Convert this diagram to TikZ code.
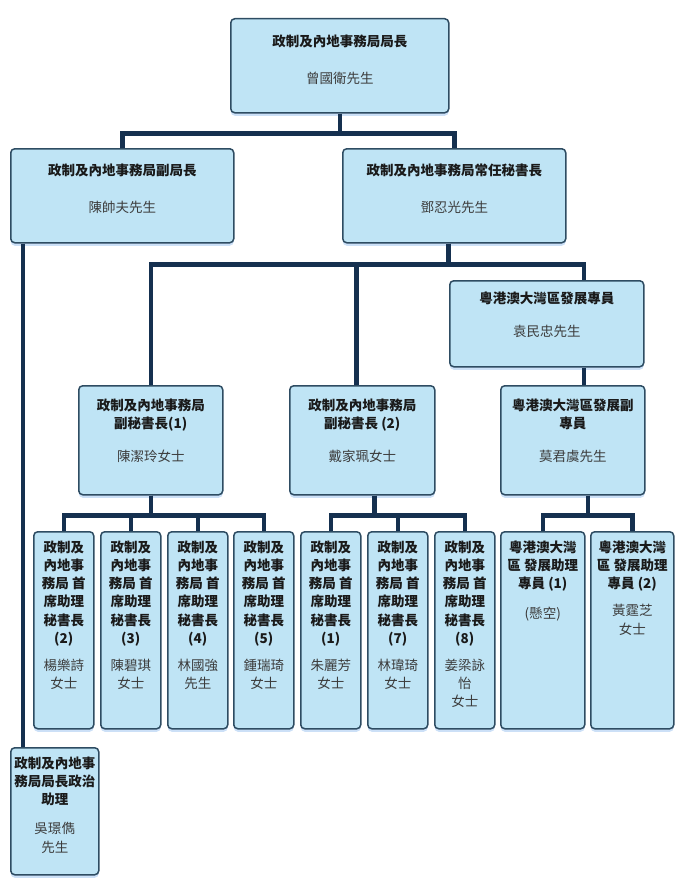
\documentclass[tikz,border=0pt]{standalone}
\usepackage{fontspec}
\setmainfont{Noto Sans CJK TC}
\usetikzlibrary{shadows}

\definecolor{boxfill}{HTML}{BFE4F5}
\definecolor{boxedge}{HTML}{2E4C62}
\definecolor{linkcol}{HTML}{15304F}
\definecolor{glow}{HTML}{7FB2EC}
\definecolor{titlecol}{HTML}{1A1A1A}
\definecolor{namecol}{HTML}{3C3C3C}

\tikzset{
  unit/.style={draw=boxedge, line width=1.5pt, fill=boxfill, rounded corners=4pt,
    anchor=north west, inner sep=0pt,
    drop shadow={shadow xshift=0pt, shadow yshift=-3pt, fill=glow, opacity=.4}},
  caption/.style={anchor=north, align=center, inner sep=0pt,
    font=\fontsize{13.5}{18.2}\selectfont\bfseries, text=titlecol},
  link/.style={draw=linkcol, line width=4.5pt}
}
\newcommand{\holder}{\mdseries\color{namecol}}

\begin{document}
\begin{tikzpicture}[x=1pt,y=-1pt]
\useasboundingbox (0,0) rectangle (680,891);

% top
\node[unit, minimum width=218pt, minimum height=94pt] (chief) at (230,18) {};
\node[caption] (chief-t) at ([yshift=-16.5pt]chief.north) {政制及內地事務局局長\\[19pt]\holder 曾國衛先生};

% second level
\node[unit, minimum width=223pt, minimum height=94pt] (deputy) at (10,148) {};
\node[caption] (deputy-t) at ([yshift=-15.5pt]deputy.north) {政制及內地事務局副局長\\[19pt]\holder 陳帥夫先生};
\node[unit, minimum width=223pt, minimum height=94pt] (ps) at (342,148) {};
\node[caption] (ps-t) at ([yshift=-15.5pt]ps.north) {政制及內地事務局常任秘書長\\[19pt]\holder 鄧忍光先生};

\node[unit, minimum width=194pt, minimum height=86pt] (comm) at (449,280) {};
\node[caption] (comm-t) at ([yshift=-11.5pt]comm.north) {粵港澳大灣區發展專員\\[15pt]\holder 袁民忠先生};

% deputy secretaries
\node[unit, minimum width=144pt, minimum height=109pt] (ds1) at (78,385) {};
\node[caption] (ds1-t) at ([yshift=-13.5pt]ds1.north) {政制及內地事務局\\副秘書長(1)\\[15pt]\holder 陳潔玲女士};
\node[unit, minimum width=145pt, minimum height=109pt] (ds2) at (289,385) {};
\node[caption] (ds2-t) at ([yshift=-13.5pt]ds2.north) {政制及內地事務局\\副秘書長 (2)\\[15pt]\holder 戴家珮女士};
\node[unit, minimum width=144pt, minimum height=109pt] (dc) at (500,385) {};
\node[caption] (dc-t) at ([yshift=-13.5pt]dc.north) {粵港澳大灣區發展副\\專員\\[15pt]\holder 莫君虞先生};

% principal assistant secretaries
\node[unit, minimum width=60pt, minimum height=197pt] (a2) at (33,531) {};
\node[caption] (a2-t) at ([yshift=-9.5pt]a2.north) {政制及\\內地事\\務局 首\\席助理\\秘書長\\(2)\\[9pt]\holder 楊樂詩\\\holder 女士};
\node[unit, minimum width=60pt, minimum height=197pt] (a3) at (100,531) {};
\node[caption] (a3-t) at ([yshift=-9.5pt]a3.north) {政制及\\內地事\\務局 首\\席助理\\秘書長\\(3)\\[9pt]\holder 陳碧琪\\\holder 女士};
\node[unit, minimum width=60pt, minimum height=197pt] (a4) at (167,531) {};
\node[caption] (a4-t) at ([yshift=-9.5pt]a4.north) {政制及\\內地事\\務局 首\\席助理\\秘書長\\(4)\\[9pt]\holder 林國強\\\holder 先生};
\node[unit, minimum width=60pt, minimum height=197pt] (a5) at (233,531) {};
\node[caption] (a5-t) at ([yshift=-9.5pt]a5.north) {政制及\\內地事\\務局 首\\席助理\\秘書長\\(5)\\[9pt]\holder 鍾瑞琦\\\holder 女士};
\node[unit, minimum width=60pt, minimum height=197pt] (b1) at (300,531) {};
\node[caption] (b1-t) at ([yshift=-9.5pt]b1.north) {政制及\\內地事\\務局 首\\席助理\\秘書長\\(1)\\[9pt]\holder 朱麗芳\\\holder 女士};
\node[unit, minimum width=60pt, minimum height=197pt] (b7) at (367,531) {};
\node[caption] (b7-t) at ([yshift=-9.5pt]b7.north) {政制及\\內地事\\務局 首\\席助理\\秘書長\\(7)\\[9pt]\holder 林瑋琦\\\holder 女士};
\node[unit, minimum width=60pt, minimum height=197pt] (b8) at (434,531) {};
\node[caption] (b8-t) at ([yshift=-9.5pt]b8.north) {政制及\\內地事\\務局 首\\席助理\\秘書長\\(8)\\[9pt]\holder 姜梁詠\\\holder 怡\\\holder 女士};

% assistant commissioners
\node[unit, minimum width=84pt, minimum height=197pt] (c1) at (500,531) {};
\node[caption] (c1-t) at ([yshift=-9.5pt]c1.north) {粵港澳大灣\\區 發展助理\\專員 (1)\\[12pt]\holder (懸空)};
\node[unit, minimum width=83pt, minimum height=197pt] (c2) at (590,531) {};
\node[caption] (c2-t) at ([yshift=-9.5pt]c2.north) {粵港澳大灣\\區 發展助理\\專員 (2)\\[9pt]\holder 黃霆芝\\\holder 女士};

% political assistant
\node[unit, minimum width=88pt, minimum height=127pt] (pa) at (10,747) {};
\node[caption] (pa-t) at ([yshift=-9.5pt]pa.north) {政制及內地事\\務局局長政治\\助理\\[11pt]\holder 吳璟儁\\\holder 先生};

% links
\draw[link] (chief.south) -- ++(0,20) -| (deputy.north);
\draw[link] (chief.south) -- ++(0,20) -| (ps.north);
\draw[link] ([xshift=-6pt]ps.south) -- ++(0,21) -| (ds1.north);
\draw[link] ([xshift=-6pt]ps.south) -- ++(0,21) -| ([xshift=-6pt]ds2.north);
\draw[link] ([xshift=-6pt]ps.south) -- ++(0,21) -| ([xshift=37pt]comm.north);
\draw[link] ([xshift=37pt]comm.south) -- ([xshift=11pt]dc.north);
\foreach \k in {a2,a3,a4,a5}
  \draw[link] (ds1.south) -- ++(0,20) -| (\k.north);
\foreach \k in {b1,b7,b8}
  \draw[link] ([xshift=12pt]ds2.south) -- ++(0,20) -| (\k.north);
\foreach \k in {c1,c2}
  \draw[link] ([xshift=15pt]dc.south) -- ++(0,20) -| (\k.north);
\draw[link] ([xshift=13pt]deputy.south west) -- ([xshift=13pt]pa.north west);
\end{tikzpicture}
\end{document}
